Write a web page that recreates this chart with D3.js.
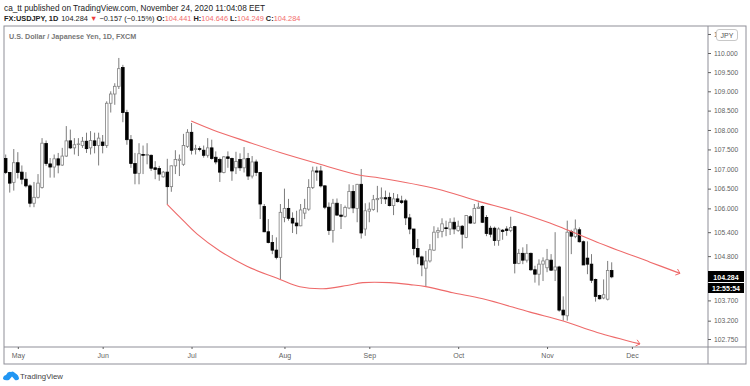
<!DOCTYPE html>
<html>
<head>
<meta charset="utf-8">
<script src="https://cdn.jsdelivr.net/npm/d3@7/dist/d3.min.js"></script>
<style>
html, body { margin: 0; padding: 0; background: #fff; }
svg { display: block; }
text { font-family: "Liberation Sans", Arial, sans-serif; }
</style>
</head>
<body>
<svg id="chart" width="750" height="386"></svg>
<script>
// daily candles (index 0 = Apr 28)
const opens = [107.27,106.91,106.66,107.16,106.92,106.74,106.57,106.13,106.28,106.53,107.65,107.13,107.05,107.26,107.10,107.33,107.72,107.54,107.63,107.60,107.71,107.54,107.72,107.60,107.69,107.60,108.69,108.93,109.13,109.62,108.45,107.75,107.14,106.89,107.37,107.35,107.35,107.03,107.01,106.80,106.92,106.55,107.08,107.22,107.12,107.58,107.94,107.50,107.52,107.48,107.35,107.54,107.30,107.24,106.91,107.31,107.27,107.03,107.24,107.03,107.27,106.82,107.18,106.91,106.05,105.41,105.14,104.95,104.77,105.77,106.00,105.75,105.63,105.56,105.88,105.98,106.53,106.95,106.95,106.57,106.03,105.44,106.13,105.83,105.80,106.01,106.43,106.00,106.61,105.48,105.93,105.97,106.22,106.25,106.27,106.28,106.07,106.24,106.19,106.19,105.76,105.48,104.99,104.78,104.50,104.68,104.95,105.40,105.42,105.51,105.48,105.65,105.44,105.55,105.27,105.79,105.63,106.00,106.05,105.77,105.50,105.50,105.19,105.45,105.48,105.44,105.54,104.62,104.87,104.70,104.87,104.46,104.35,104.60,104.51,104.70,104.45,104.53,103.46,103.32,105.42,105.29,105.46,105.16,104.75,104.60,104.22,103.82,103.76,103.73,104.441];
const highs = [107.37,106.92,107.51,107.43,107.09,106.92,106.61,106.67,106.87,107.79,107.73,107.28,107.37,107.41,107.54,108.10,108.01,107.79,107.79,107.82,107.93,107.97,107.93,107.93,107.87,108.74,109.00,109.21,109.87,109.69,108.52,107.87,107.41,107.66,107.60,107.66,107.37,107.20,107.08,106.95,107.26,107.09,107.48,107.37,107.90,108.02,108.18,107.62,107.58,107.60,107.79,107.75,107.45,107.29,107.33,107.45,107.29,107.44,107.40,107.56,107.41,107.33,107.24,106.92,106.11,105.73,105.33,105.27,106.11,106.50,106.24,105.90,105.94,106.11,106.24,106.74,107.06,107.06,107.08,106.59,106.15,106.24,106.25,106.11,106.07,106.61,106.59,106.62,107.00,106.13,106.15,106.34,106.57,106.53,106.45,106.40,106.39,106.36,106.32,106.24,105.86,105.48,105.23,104.81,104.93,105.10,105.55,105.52,105.75,105.69,105.75,105.77,105.69,105.58,105.83,105.83,106.11,106.15,106.07,105.83,105.56,105.54,105.52,105.48,105.55,105.79,105.56,104.98,105.02,105.10,104.89,104.56,104.72,104.77,104.98,104.85,105.40,104.56,103.80,105.69,105.46,105.72,105.52,105.19,105.17,104.85,104.24,103.84,104.22,104.68,104.646];
const lows = [106.87,106.40,106.45,106.76,106.61,106.53,106.03,106.03,106.25,106.50,107.08,106.78,106.78,106.89,107.08,107.31,107.51,107.37,107.33,107.54,107.41,107.37,107.40,107.09,107.40,107.54,108.45,108.65,109.06,108.20,107.62,107.03,106.61,106.61,106.87,107.12,106.95,106.74,106.70,106.78,106.11,106.42,106.87,106.82,107.08,107.54,107.37,107.37,107.45,107.29,107.29,107.24,107.12,106.67,106.89,107.03,106.70,106.87,106.95,106.91,106.72,106.76,106.82,105.73,105.40,105.12,104.85,104.72,104.22,105.65,105.69,105.38,105.35,105.55,105.73,105.94,106.49,106.70,106.53,105.98,105.33,105.14,105.82,105.48,105.77,105.98,105.88,105.65,105.24,105.31,105.65,105.94,105.90,106.11,106.11,106.05,105.83,106.15,106.11,105.58,105.35,104.82,104.60,104.30,104.05,104.64,104.93,105.25,105.27,105.30,105.33,105.35,105.41,104.99,105.25,105.61,105.61,106.00,105.63,105.30,105.27,105.06,105.06,105.21,105.31,105.40,104.37,104.60,104.60,104.64,104.43,104.14,104.07,104.18,104.40,104.43,104.18,103.42,103.20,103.20,104.85,105.25,105.14,104.58,104.35,104.13,103.67,103.72,103.73,103.70,104.249];
const closes = [106.91,106.64,107.16,106.91,106.74,106.57,106.13,106.28,106.64,107.66,107.14,107.05,107.26,107.10,107.33,107.72,107.54,107.62,107.64,107.71,107.52,107.73,107.60,107.79,107.60,108.69,108.93,109.13,109.59,108.45,107.75,107.14,106.89,107.39,107.35,107.37,107.02,106.99,106.87,106.92,106.55,107.08,107.24,107.25,107.60,107.94,107.48,107.52,107.50,107.35,107.54,107.27,107.18,106.92,107.31,107.27,106.95,107.19,107.03,107.26,106.82,107.18,106.91,106.11,105.41,105.14,104.95,104.77,105.90,106.00,105.75,105.63,105.56,105.96,106.00,106.53,106.95,106.92,106.57,106.03,105.44,106.13,105.83,105.80,106.02,106.43,106.01,106.61,105.38,105.94,105.98,106.22,106.25,106.27,106.24,106.07,106.24,106.17,106.15,105.76,105.48,104.99,104.78,104.58,104.68,104.96,105.40,105.44,105.61,105.49,105.65,105.48,105.55,105.35,105.82,105.63,106.00,106.03,105.65,105.37,105.35,105.19,105.48,105.42,105.44,105.52,104.62,104.87,104.70,104.87,104.46,104.35,104.60,104.68,104.71,104.45,104.53,103.46,103.34,105.40,105.30,105.48,105.16,104.58,104.60,104.20,103.80,103.74,103.84,104.44,104.284];

// axis labels
const priceTicks = [110.5,110,109.5,109,108.5,108,107.5,107,106.5,106,105.4,104.8,103.7,103.2,102.75];
const monthNames = ["May","Jun","Jul","Aug","Sep","Oct","Nov","Dec"];
const monthIndex = [3,24,46,69,90,112,134,155];

// the two hand drawn channel lines (bar index, price)
const upperLineIdx = [45.9,51.3,59.7,67.9,77.8,87.7,92.6,106.8,116.7,126.6,134.7,138,146.4,159.5,166.9];
const upperLinePrice = [108.23,108.0,107.70,107.42,107.12,106.84,106.77,106.49,106.19,105.91,105.63,105.50,105.15,104.65,104.37];
const lowerLineIdx = [39.9,43.1,47.4,53,59.7,67.9,72.8,78.5,84.5,88.4,95.1,100.1,104,110.7,118.1,129.8,138,146.4,157];
const lowerLinePrice = [106.11,105.78,105.35,104.93,104.55,104.22,104.04,103.99,104.07,104.14,104.14,104.09,104.04,103.89,103.74,103.41,103.19,102.91,102.63];

const lastPrice = "104.284";
const countdown = "12:55:54";

const candles = opens.map((o, i) => ({ i, o, h: highs[i], l: lows[i], c: closes[i] }));

const frameColor = "#8f8f98";
const tickColor = "#5f5f5f";
const frameLeft = 4, frameTop = 26, axisX = 708, frameRight = 746, paneBottom = 347, frameBottom = 364;

const svg = d3.select("#chart");

const x = d3.scaleLinear().domain([0, 150]).range([5.7, 611.7]);
const y = d3.scaleLog().domain([102.75, 110]).range([339, 53]);

// header text
svg.append("text").attr("x", 4).attr("y", 10.5).attr("font-size", 8.25).attr("fill", "#222")
    .text("ca_tt published on TradingView.com, November 24, 2020 11:04:08 EET");

const head = svg.append("text").attr("x", 4).attr("y", 20.5).attr("font-size", 7.4).attr("fill", "#222");
head.append("tspan").attr("font-weight", "bold").text("FX:USDJPY, 1D");
head.append("tspan").attr("dx", 3).text("104.284 ");
head.append("tspan").attr("fill", "#ef3b3b").text("▼");
head.append("tspan").text(" −0.157 (−0.15%) ");
[["O:", "104.441"], ["H:", "104.646"], ["L:", "104.249"], ["C:", "104.284"]].forEach(d => {
    head.append("tspan").attr("font-weight", "bold").text(d[0]);
    head.append("tspan").attr("fill", "#f26d6d").text(d[1] + " ");
});

svg.append("text").attr("x", 9).attr("y", 38.5).attr("font-size", 7.2).attr("font-weight", "bold").attr("fill", "#777")
    .text("U.S. Dollar / Japanese Yen, 1D, FXCM");

// frame
svg.append("rect").attr("x", frameLeft).attr("y", frameTop).attr("width", frameRight - frameLeft).attr("height", frameBottom - frameTop)
    .attr("fill", "none").attr("stroke", frameColor);
svg.append("line").attr("x1", frameLeft).attr("x2", frameRight).attr("y1", paneBottom).attr("y2", paneBottom).attr("stroke", frameColor);
svg.append("line").attr("x1", axisX).attr("x2", axisX).attr("y1", frameTop).attr("y2", frameBottom).attr("stroke", frameColor);

// axes
const yAxis = svg.append("g").attr("transform", `translate(${axisX},0)`)
    .call(d3.axisRight(y).tickValues(priceTicks).tickFormat(d3.format(".3f")).tickSize(3).tickPadding(3));
yAxis.select(".domain").remove();
yAxis.selectAll("line").attr("stroke", tickColor);
yAxis.selectAll("text").attr("font-size", 6.7).attr("fill", tickColor);

const xAxis = svg.append("g").attr("transform", `translate(0,${paneBottom})`)
    .call(d3.axisBottom(x).tickValues(monthIndex).tickFormat((d, i) => monthNames[i]).tickSize(2).tickPadding(4));
xAxis.select(".domain").remove();
xAxis.selectAll("line").attr("stroke", tickColor);
xAxis.selectAll("text").attr("font-size", 7).attr("fill", tickColor);

// candles
const g = svg.append("g");
const bar = g.selectAll("g").data(candles).join("g");
bar.append("line")
    .attr("x1", d => x(d.i)).attr("x2", d => x(d.i))
    .attr("y1", d => y(d.h)).attr("y2", d => y(d.l))
    .attr("stroke", "#5a5a5a").attr("stroke-width", 0.8);
bar.append("rect")
    .attr("x", d => x(d.i) - 1.3)
    .attr("width", 2.6)
    .attr("y", d => y(Math.max(d.o, d.c)))
    .attr("height", d => Math.max(0.6, Math.abs(y(d.o) - y(d.c))))
    .attr("fill", d => d.c >= d.o ? "#fff" : "#000")
    .attr("stroke", d => d.c >= d.o ? "#808080" : "#000")
    .attr("stroke-width", 0.8);

// channel lines with arrow heads
const channel = d3.line().x(d => x(d[0])).y(d => y(d[1])).curve(d3.curveCatmullRom.alpha(0.5));
const red = "#ee6a6a";
function drawChannel(idx, price) {
    const pts = idx.map((v, i) => [v, price[i]]);
    svg.append("path").attr("d", channel(pts)).attr("fill", "none").attr("stroke", red).attr("stroke-width", 1.1);
    const a = pts[pts.length - 2], b = pts[pts.length - 1];
    const bx = x(b[0]), by = y(b[1]);
    const ang = Math.atan2(by - y(a[1]), bx - x(a[0]));
    [-1, 1].forEach(s => {
        svg.append("line").attr("x1", bx).attr("y1", by)
            .attr("x2", bx - 5 * Math.cos(ang + s * 0.7)).attr("y2", by - 5 * Math.sin(ang + s * 0.7))
            .attr("stroke", red).attr("stroke-width", 1);
    });
}
drawChannel(upperLineIdx, upperLinePrice);
drawChannel(lowerLineIdx, lowerLinePrice);

// currency pill covers the top tick label
svg.append("rect").attr("x", 716.5).attr("y", 29.5).attr("width", 21).attr("height", 11).attr("rx", 2.5)
    .attr("fill", "#fff").attr("stroke", "#c8c8c8");
svg.append("text").attr("x", 727).attr("y", 37.5).attr("text-anchor", "middle").attr("font-size", 7).attr("fill", "#555").text("JPY");

// last price tag
svg.append("rect").attr("x", axisX).attr("y", 271).attr("width", 36).attr("height", 11).attr("fill", "#000");
svg.append("rect").attr("x", axisX).attr("y", 283).attr("width", 36).attr("height", 10).attr("fill", "#000");
svg.append("text").attr("x", 726).attr("y", 279.5).attr("text-anchor", "middle").attr("font-size", 7).attr("font-weight", "bold").attr("fill", "#fff").text(lastPrice);
svg.append("text").attr("x", 726).attr("y", 291).attr("text-anchor", "middle").attr("font-size", 7).attr("font-weight", "bold").attr("fill", "#fff").text(countdown);

// logo
svg.append("path").attr("d", "M3,379 Q3,375.5 6,375 Q8,371 11,372 Q13,370.5 15,373 Q19,375 19,379 Q17,381 15,380 L12,376.5 L9,380 Q5,381 3,379 Z").attr("fill", "#2196f3");
svg.append("text").attr("x", 20).attr("y", 378.5).attr("font-size", 7.8).attr("fill", "#444").text("TradingView");
</script>
</body>
</html>
